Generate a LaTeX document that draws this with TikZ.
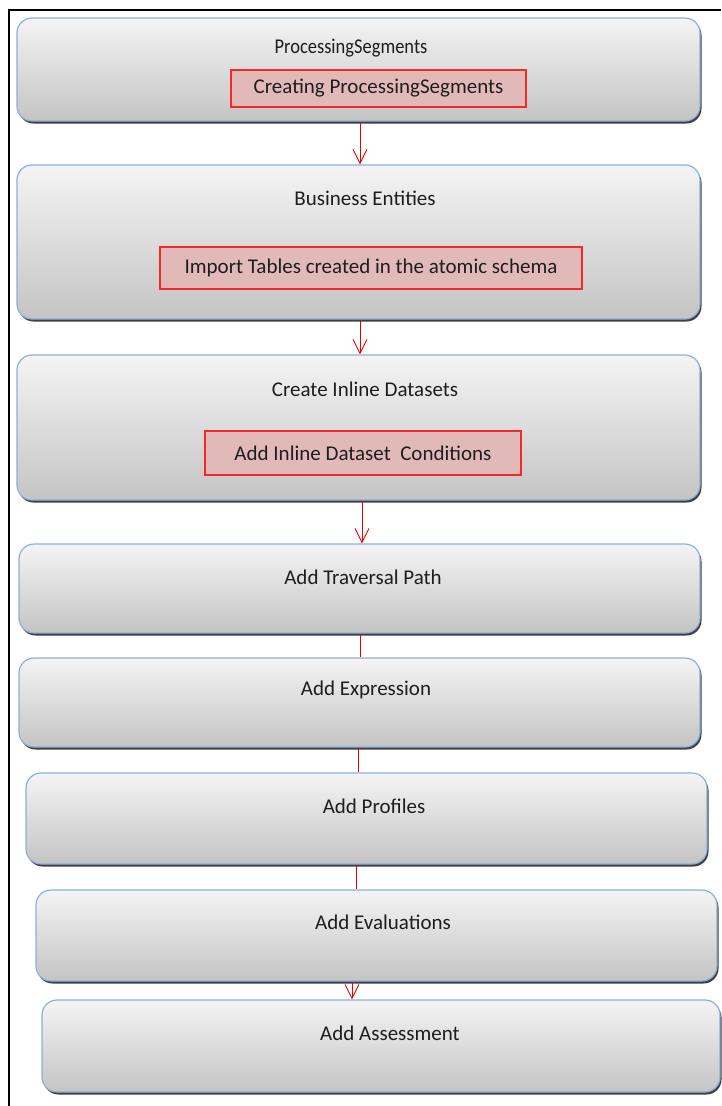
\documentclass[tikz,border=0pt]{standalone}
\usepackage{fontspec}
\setmainfont{Carlito}
\usetikzlibrary{arrows.meta,shadows}
\definecolor{boxtop}{HTML}{F4F4F4}
\definecolor{boxbot}{HTML}{C4C4C4}
\definecolor{boxedge}{HTML}{8CB0DC}
\definecolor{redfill}{HTML}{E2B9B9}
\definecolor{redline}{HTML}{F42828}
\definecolor{txt}{HTML}{1E1E1E}
\tikzset{
  stepbox/.style={rounded corners=15pt, draw=boxedge, line width=1.2pt,
    top color=boxtop, bottom color=boxbot, inner sep=0pt,
    general shadow={fill=black!75, shadow xshift=1.5pt, shadow yshift=-2.5pt}},
  subbox/.style={draw=redline, line width=1.5pt, fill=redfill, inner sep=0pt},
  lbl/.style={font=\fontsize{21}{23}\selectfont, text=txt, inner sep=0pt, transform shape},
  link/.style={draw=red!90!black, line width=0.9pt},
  arr/.style={link, -{Straight Barb[length=14pt,width=14pt,line width=0.9pt]}},
}
\begin{document}
\begin{tikzpicture}[x=1pt,y=-1pt]
\useasboundingbox (0,0) rectangle (721,1106);
\fill[white] (0,0) rectangle (721,1106);
\draw[line width=2.5pt] (721,10) -- (9,10) -- (9,1106);

% boxes
\node[stepbox, minimum width=683pt, minimum height=103pt] (b1) at (358.5,69.5) {};
\node[stepbox, minimum width=683pt, minimum height=154pt] (b2) at (358.5,242) {};
\node[stepbox, minimum width=683pt, minimum height=145pt] (b3) at (358.5,427.5) {};
\node[stepbox, minimum width=681pt, minimum height=89pt] (b4) at (359.5,588.5) {};
\node[stepbox, minimum width=681pt, minimum height=89pt] (b5) at (359.5,702.5) {};
\node[stepbox, minimum width=681pt, minimum height=91pt] (b6) at (366.5,818.5) {};
\node[stepbox, minimum width=681pt, minimum height=91pt] (b7) at (376.5,935.5) {};
\node[stepbox, minimum width=678pt, minimum height=92pt] (b8) at (381,1046) {};

% titles
\node[lbl, xscale=0.88] (t1) at (351,48) {ProcessingSegments};
\node[lbl] (t2) at (365,198) {Business Entities};
\node[lbl] (t3) at (365,389) {Create Inline Datasets};
\node[lbl] (t4) at (363,577) {Add Traversal Path};
\node[lbl] (t5) at (366,690) {Add Expression};
\node[lbl] (t6) at (374,806) {Add Profiles};
\node[lbl] (t7) at (383,922) {Add Evaluations};
\node[lbl] (t8) at (390,1033) {Add Assessment};

% red sub boxes
\node[subbox, minimum width=295pt, minimum height=37pt] (r1) at (378.5,88.5) {};
\node[subbox, minimum width=422pt, minimum height=42pt] (r2) at (371,268) {};
\node[subbox, minimum width=316pt, minimum height=44pt] (r3) at (363,453) {};
\node[lbl] (s1) at (r1) {Creating ProcessingSegments};
\node[lbl] (s2) at (r2) {Import Tables created in the atomic schema};
\node[lbl] (s3) at (r3) {Add Inline Dataset\ \ Conditions};

% connectors
\draw[arr] (b1.south -| 360,0) -- (b2.north -| 360,0);
\draw[arr] (b2.south -| 360,0) -- (b3.north -| 360,0);
\draw[arr] (b3.south -| 362,0) -- (b4.north -| 362,0);
\draw[link] (b4.south -| 360,0) -- (b5.north -| 360,0);
\draw[link] (b5.south -| 358,0) -- (b6.north -| 358,0);
\draw[link] (b6.south -| 356,0) -- (b7.north -| 356,0);
\draw[arr] (b7.south -| 352,0) -- (b8.north -| 352,0);
\end{tikzpicture}
\end{document}
